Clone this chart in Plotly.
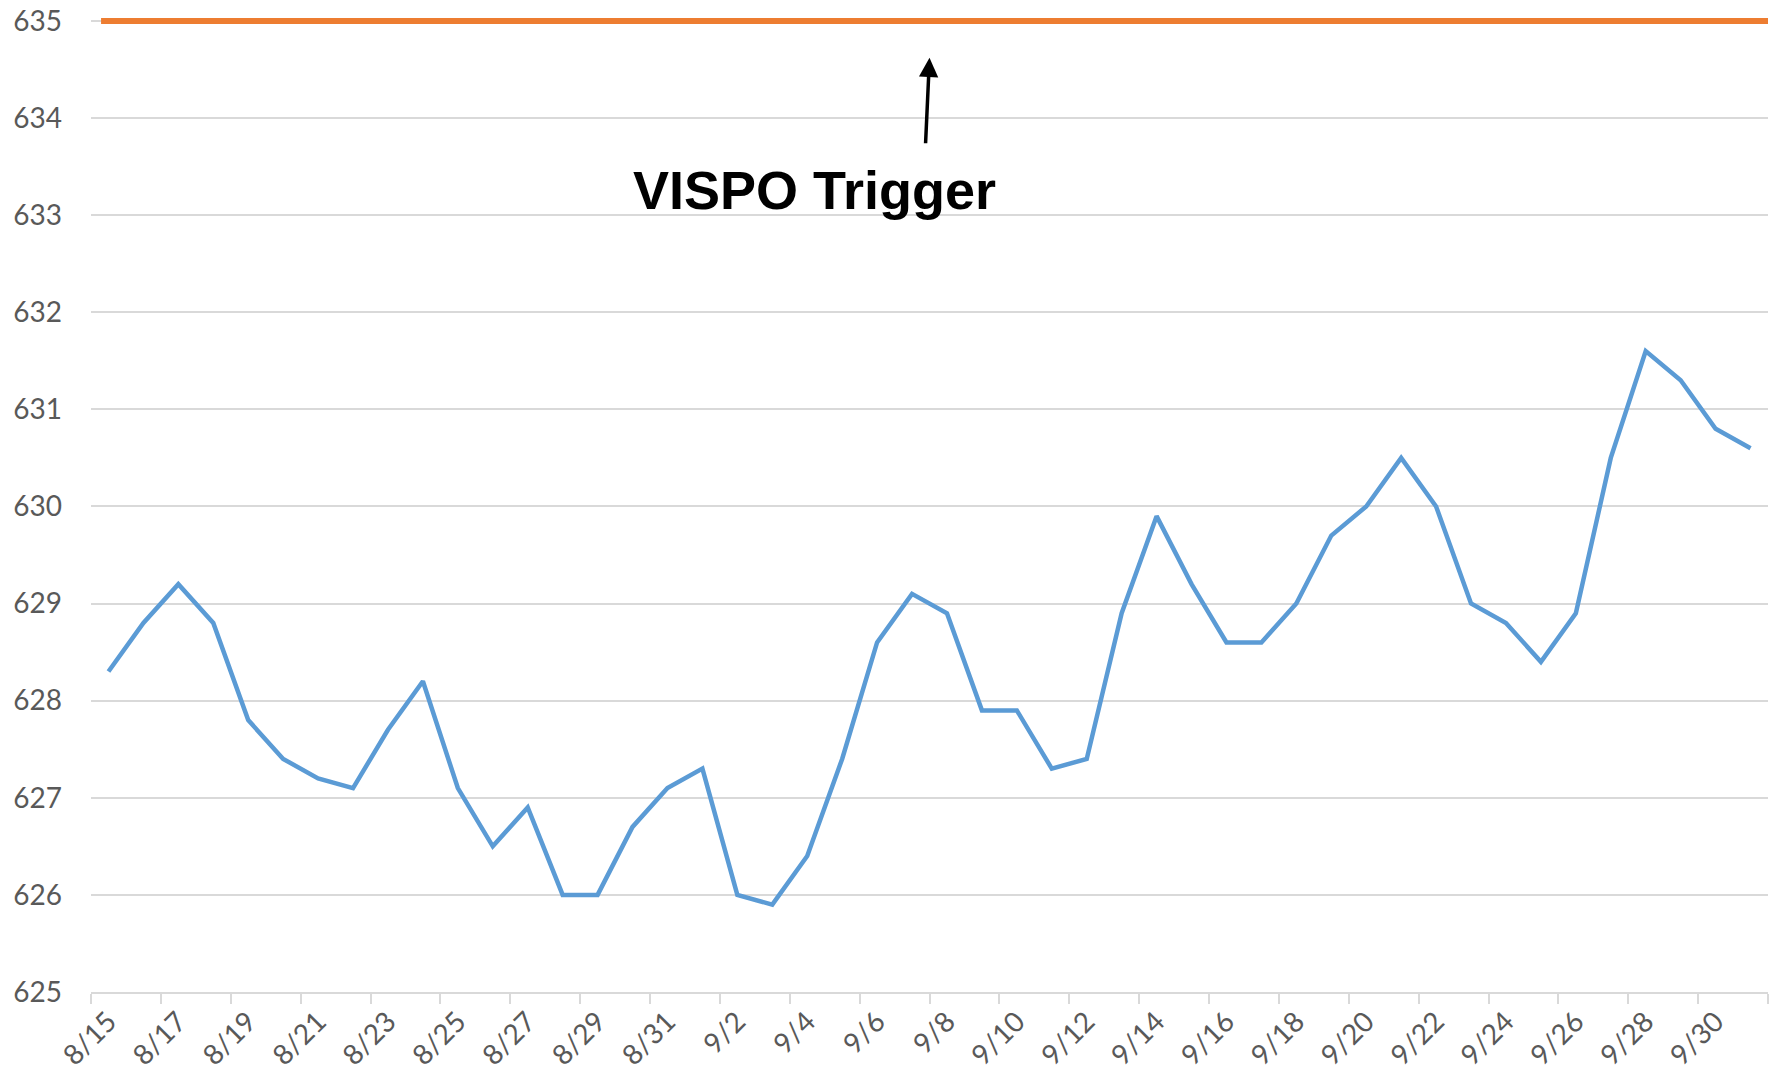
import plotly.graph_objects as go

dates = ["8/15","8/16","8/17","8/18","8/19","8/20","8/21","8/22","8/23","8/24","8/25","8/26",
         "8/27","8/28","8/29","8/30","8/31","9/1","9/2","9/3","9/4","9/5","9/6","9/7",
         "9/8","9/9","9/10","9/11","9/12","9/13","9/14","9/15","9/16","9/17","9/18","9/19",
         "9/20","9/21","9/22","9/23","9/24","9/25","9/26","9/27","9/28","9/29","9/30","10/1"]
values = [628.3, 628.8, 629.2, 628.8, 627.8, 627.4, 627.2, 627.1, 627.7, 628.2, 627.1, 626.5,
          626.9, 626.0, 626.0, 626.7, 627.1, 627.3, 626.0, 625.9, 626.4, 627.4, 628.6, 629.1,
          628.9, 627.9, 627.9, 627.3, 627.4, 628.9, 629.9, 629.2, 628.6, 628.6, 629.0, 629.7,
          630.0, 630.5, 630.0, 629.0, 628.8, 628.4, 628.9, 630.5, 631.6, 631.3, 630.8, 630.6]
trigger = 635
y_ticks = list(range(625, 636))
annotation_text = "VISPO Trigger"

idx = list(range(len(dates)))
label_idx = idx[::2]
label_text = [dates[i] for i in label_idx]
tick_marks = [i - 0.5 for i in range(0, len(dates) + 1, 2)]

fig = go.Figure()
fig.add_trace(go.Scatter(x=idx, y=values, mode="lines",
                         line=dict(color="#5B9BD5", width=4.5), showlegend=False))
fig.add_shape(type="line", xref="paper", yref="y", x0=0.006, x1=1, y0=trigger, y1=trigger,
              line=dict(color="#ED7D31", width=6), layer="above")

fig.add_annotation(x=23.5, y=634.62, xref="x", yref="y", text="", showarrow=True,
                   ax=-4, ay=87, arrowhead=2, arrowsize=1.1, arrowwidth=3.5,
                   arrowcolor="black", standoff=0)
fig.add_annotation(x=20.2, y=633.26, xref="x", yref="y", text="<b>" + annotation_text + "</b>",
                   showarrow=False, font=dict(family="Liberation Sans, Arial", size=54, color="black"),
                   xanchor="center", yanchor="middle")

tick_font = dict(family="Lato, Open Sans", size=28, color="#595959")
fig.update_layout(
    width=1772, height=1080,
    margin=dict(l=91, r=4, t=17, b=88, autoexpand=False),
    paper_bgcolor="white", plot_bgcolor="white",
    xaxis=dict(range=[-0.5, len(dates) - 0.5], tickmode="array", tickvals=label_idx,
               ticktext=label_text, tickangle=-45, tickfont=tick_font, ticks="",
               ticklabelstandoff=0, showgrid=False, zeroline=False, automargin=False,
               showline=True, linecolor="#D9D9D9", linewidth=2,
               minor=dict(tickmode="array", tickvals=tick_marks, ticks="outside",
                          ticklen=10, tickcolor="#D9D9D9", tickwidth=1.5, showgrid=False)),
    yaxis=dict(range=[625, 635.04], tickmode="array", tickvals=y_ticks, tickfont=tick_font,
               showgrid=True, gridcolor="#D9D9D9", gridwidth=1.5, zeroline=False,
               automargin=False, ticks="", ticklabelstandoff=28, showline=False),
)
fig.write_html("out.html", config={"displayModeBar": False},
               post_script="document.body.style.margin='0';document.body.style.overflow='hidden';")
